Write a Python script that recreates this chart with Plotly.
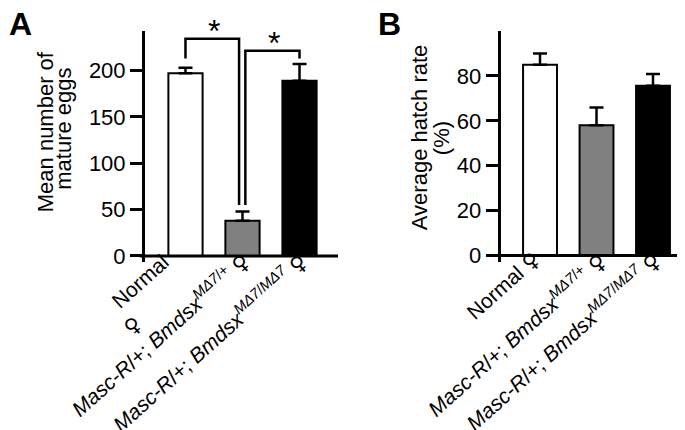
import plotly.graph_objects as go

# ---------------- data ----------------
FEM = '<span style="font-family:DejaVu Sans">\u2640\ufe0e</span>'
labels_A = ["Normal",
            "<i>Masc-R</i>/+; <i>Bmdsx</i><sup><i>MΔ7</i>/+</sup> " + FEM,
            "<i>Masc-R</i>/+; <i>Bmdsx</i><sup><i>MΔ7</i>/<i>MΔ7</i></sup> " + FEM]
labels_B = ["Normal " + FEM,
            "<i>Masc-R</i>/+; <i>Bmdsx</i><sup><i>MΔ7</i>/+</sup> " + FEM,
            "<i>Masc-R</i>/+; <i>Bmdsx</i><sup><i>MΔ7</i>/<i>MΔ7</i></sup> " + FEM]
eggs_mean = [197, 38, 189]
eggs_err = [6, 10, 18]
hatch_mean = [85, 58, 75.6]
hatch_err = [5, 8, 5.3]
ticks_A = [0, 50, 100, 150, 200]
ticks_B = [0, 20, 40, 60, 80]
bar_colors = ["white", "#808080", "black"]

FONT = "Arial, Liberation Sans, Helvetica, sans-serif"
W, H = 685, 430

xpos = list(range(len(eggs_mean)))

fig = go.Figure()

def bars(means, errs, xa, ya):
    return go.Bar(
        x=xpos, y=means, width=0.6, xaxis=xa, yaxis=ya,
        marker=dict(color=bar_colors, line=dict(color="black", width=2)),
        error_y=dict(type="data", array=errs, arrayminus=[0] * len(errs),
                     symmetric=False, color="black", thickness=2.5, width=7),
        showlegend=False, hoverinfo="skip")

fig.add_trace(bars(eggs_mean, eggs_err, "x", "y"))
fig.add_trace(bars(hatch_mean, hatch_err, "x2", "y2"))

# significance brackets (panel A)
br1_x = [0, 0, 0.94, 0.94]
br1_y = [213, 234.3, 234.3, 55]
br2_x = [1.05, 1.05, 2, 2]
br2_y = [55, 221.3, 221.3, 213]
for bx, by in ((br1_x, br1_y), (br2_x, br2_y)):
    fig.add_trace(go.Scatter(x=bx, y=by, mode="lines", xaxis="x", yaxis="y",
                             line=dict(color="black", width=2.5),
                             showlegend=False, hoverinfo="skip", cliponaxis=False))

def px2x(px):
    return px / W

def px2y(py):
    return 1 - py / H

ydom = [px2y(258), px2y(23)]

axis_common = dict(showgrid=False, zeroline=False)
fig.update_layout(
    width=W, height=H, margin=dict(l=0, r=0, t=0, b=0),
    paper_bgcolor="white", plot_bgcolor="white",
    font=dict(family=FONT, color="black"),
    xaxis=dict(domain=[px2x(137), px2x(330)], range=[-0.71, 2.675],
               showline=False, showticklabels=False, ticks="", **axis_common),
    xaxis2=dict(domain=[px2x(492.7), 1.0], range=[-0.696, 2.708],
                showline=False, showticklabels=False, ticks="", anchor="y2",
                **axis_common),
    yaxis=dict(domain=ydom, range=[-7, 243], tickvals=ticks_A,
               showline=True, linewidth=3, linecolor="black",
               ticks="outside", ticklen=12, tickwidth=3, tickcolor="black",
               tickfont=dict(size=22, family=FONT), anchor="x", **axis_common),
    yaxis2=dict(domain=ydom, range=[-3.1, 100.2], tickvals=ticks_B,
                showline=True, linewidth=3, linecolor="black",
                ticks="outside", ticklen=12, tickwidth=3, tickcolor="black",
                tickfont=dict(size=22, family=FONT), anchor="x2", **axis_common),
)

# x-axis baselines at y=0
fig.add_shape(type="line", xref="x domain", yref="y", x0=-0.027, x1=1, y0=0, y1=0,
              line=dict(color="black", width=3))
fig.add_shape(type="line", xref="x2 domain", yref="y2", x0=-0.03, x1=1, y0=0, y1=0,
              line=dict(color="black", width=3))

ann = []
# stars
ann.append(dict(text="*", x=0.50, y=233.8, xref="x", yref="y", showarrow=False,
                yshift=8, font=dict(size=32, family=FONT)))
ann.append(dict(text="*", x=1.55, y=221.3, xref="x", yref="y", showarrow=False,
                yshift=8, font=dict(size=32, family=FONT)))

# panel letters
ann.append(dict(text="<b>A</b>", x=px2x(0), y=px2y(-3), xref="paper", yref="paper",
                xanchor="left", yanchor="top", showarrow=False, borderpad=0,
                font=dict(size=32, family=FONT)))
ann.append(dict(text="<b>B</b>", x=px2x(369), y=px2y(-3), xref="paper", yref="paper",
                xanchor="left", yanchor="top", showarrow=False, borderpad=0,
                font=dict(size=32, family=FONT)))

# y-axis titles (two separate lines for tight leading)
for txt, cx, cy in (("Mean number of", 37, 126), ("mature eggs", 55.5, 123),
                    ("Average hatch rate", 411, 131), ("(%)", 433, 132)):
    ann.append(dict(text=txt, x=px2x(cx), y=px2y(cy), xref="paper", yref="paper",
                    xanchor="center", yanchor="middle", textangle=-90,
                    showarrow=False, font=dict(size=22, family=FONT)))

# rotated category labels
shifts_A = [-10, 15, 15]
yshift_A = [9, 11, 11]
shifts_B = [7, 17, 15]
for i, lab in enumerate(labels_A):
    ann.append(dict(text=lab, x=xpos[i], y=0, xref="x", yref="y", xanchor="right",
                    yanchor="top", textangle=-42, showarrow=False,
                    xshift=shifts_A[i], yshift=yshift_A[i],
                    font=dict(size=21, family=FONT)))
# second line of the first panel-A label
ann.append(dict(text=FEM, x=xpos[0], y=0, xref="x", yref="y", xanchor="center",
                yanchor="middle", textangle=-42, showarrow=False,
                xshift=-53, yshift=-70, font=dict(size=21, family=FONT)))
for i, lab in enumerate(labels_B):
    ann.append(dict(text=lab, x=xpos[i], y=0, xref="x2", yref="y2", xanchor="right",
                    yanchor="top", textangle=-42, showarrow=False,
                    xshift=shifts_B[i], yshift=11, font=dict(size=21, family=FONT)))

fig.update_layout(annotations=ann)
fig.write_html("out.html")
